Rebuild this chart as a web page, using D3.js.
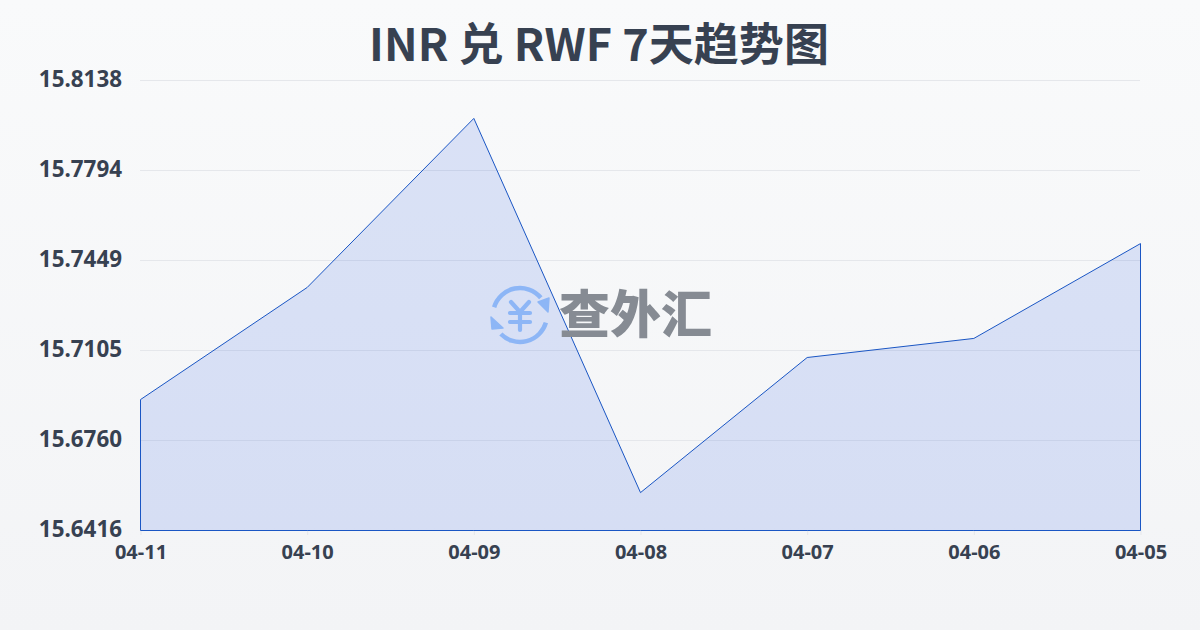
<!DOCTYPE html>
<html><head><meta charset="utf-8">
<script src="https://cdn.jsdelivr.net/npm/d3@7/dist/d3.min.js"></script>
<style>html,body{margin:0;padding:0;width:1200px;height:630px;overflow:hidden}svg{display:block}
text{font-family:"Noto Sans CJK SC","Noto Sans",sans-serif}</style></head>
<body><svg id="c" width="1200" height="630"></svg>
<script>
const titleText = "INR 兑 RWF 7天趋势图";
const dates = ["04-11","04-10","04-09","04-08","04-07","04-06","04-05"];
const rates = [15.6917,15.7346,15.7993,15.6561,15.7078,15.7151,15.7514];
const yTickLabels = ["15.6416","15.6760","15.7105","15.7449","15.7794","15.8138"];
const watermark = "查外汇";

const svg = d3.select("#c");
const defs = svg.append("defs");
const bg = defs.append("linearGradient").attr("id","bg").attr("x1",0).attr("y1",0).attr("x2",0).attr("y2",1);
bg.append("stop").attr("offset","0%").attr("stop-color","#f9fafb");
bg.append("stop").attr("offset","100%").attr("stop-color","#f3f4f6");
svg.append("rect").attr("width",1200).attr("height",630).attr("fill","url(#bg)");

const x = d3.scalePoint().domain(dates).range([140.5,1140.5]);
const y = d3.scaleLinear().domain([15.6416,15.8138]).range([530.5,80.5]);

const grid = svg.append("g");
yTickLabels.forEach(t=>{
  const py = Math.floor(y(+t))+0.5;
  grid.append("line").attr("x1",140).attr("x2",1140).attr("y1",py).attr("y2",py)
    .attr("stroke","#e5e7eb").attr("stroke-width",1);
});

const yAxis = svg.append("g").attr("transform","translate(140,-1.5)")
  .call(d3.axisLeft(y).tickValues(yTickLabels.map(Number)).tickFormat(d3.format(".4f")).tickSize(0).tickPadding(18));
yAxis.select(".domain").remove();
yAxis.selectAll("text").attr("font-size",22.4).attr("font-weight",700).attr("fill","#374151")
  .style("font-family",'"Noto Sans","Noto Sans CJK SC",sans-serif');

const xAxis = svg.append("g").attr("transform","translate(0,530)")
  .call(d3.axisBottom(x).tickSize(5).tickPadding(10));
xAxis.select(".domain").remove();
xAxis.selectAll("line").attr("stroke","#e5e7eb");
xAxis.selectAll("text").attr("font-size",20).attr("font-weight",700).attr("fill","#374151")
  .style("font-family",'"Noto Sans","Noto Sans CJK SC",sans-serif');

const pts = dates.map((d,i)=>({d,v:rates[i]}));
const area = d3.area().x(p=>x(p.d)).y0(y.range()[0]).y1(p=>y(p.v));
svg.append("path").datum(pts).attr("d",area).attr("fill","#2358e0").attr("fill-opacity",0.14)
  .attr("stroke","#1a56c4").attr("stroke-width",1).attr("stroke-linejoin","round");

// watermark
const wm = svg.append("g").attr("id","watermark");
const ic = wm.append("g").attr("transform","translate(520,315)").attr("fill","none")
  .attr("stroke","#8db6f6").attr("stroke-linecap","round");
const arc = d3.arc().innerRadius(27).outerRadius(27);
ic.append("path").attr("d",arc({startAngle:-1.28,endAngle:0.88})).attr("stroke-width",4.5);
ic.append("path").attr("d",arc({startAngle:1.86,endAngle:3.93})).attr("stroke-width",4.5);
ic.append("path").attr("d","M18,-13 L29,-17 L28,-3 Z").attr("fill","#8db6f6").attr("stroke-width",1.5).attr("stroke-linejoin","round");
ic.append("path").attr("d","M-29,2 L-17,13 L-28,14 Z").attr("fill","#8db6f6").attr("stroke-width",1.5).attr("stroke-linejoin","round");
ic.append("path").attr("d","M-9,-13 L0,-3 L9,-13 M-10,-2 H10 M-10,7 H10 M0,-3 V15").attr("stroke-width",4.2).attr("stroke-linejoin","round");
wm.append("text").attr("x",635.5).attr("y",333).attr("text-anchor","middle").attr("font-size",51)
  .attr("font-weight",900).attr("fill","#868b93").text(watermark);

svg.append("text").attr("x",599).attr("y",61).attr("text-anchor","middle").attr("font-size",45)
  .attr("font-weight",700).attr("fill","#374151").text(titleText);
</script></body></html>
